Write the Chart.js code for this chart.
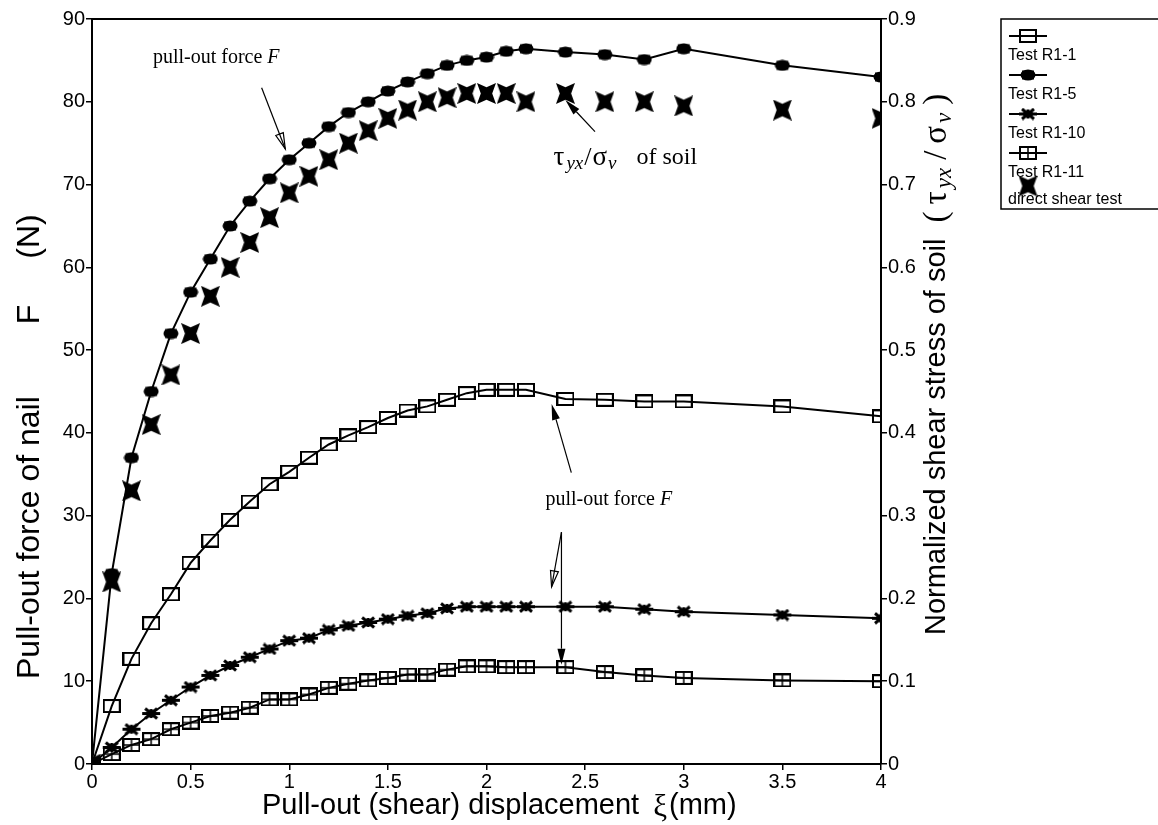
<!DOCTYPE html>
<html>
<head>
<meta charset="utf-8">
<script src="https://cdn.jsdelivr.net/npm/chart.js@4.4.1/dist/chart.umd.min.js"></script>
<style>
  html, body { margin: 0; padding: 0; background: #fff; }
  #wrap { width: 1158px; height: 825px; }
</style>
</head>
<body>
<div id="wrap"><canvas id="pulloutChart" width="1158" height="825"></canvas></div>
<script>
// pull-out displacement (mm) at which each reading was taken
const displacement = [0, 0.1, 0.2, 0.3, 0.4, 0.5, 0.6, 0.7, 0.8, 0.9, 1.0, 1.1, 1.2, 1.3, 1.4, 1.5,
  1.6, 1.7, 1.8, 1.9, 2.0, 2.1, 2.2, 2.4, 2.6, 2.8, 3.0, 3.5, 4.0];

// pull-out force of nail F (N)
const forceR1_1 = [0, 7, 12.7, 17, 20.5, 24.3, 27, 29.5, 31.7, 33.8, 35.3, 37, 38.6, 39.7, 40.7, 41.8,
  42.7, 43.2, 44, 44.8, 45.2, 45.2, 45.2, 44.1, 44, 43.8, 43.8, 43.2, 42];
const forceR1_5 = [0, 23, 37, 45, 52, 57, 61, 65, 68, 70.7, 73, 75, 77, 78.7, 80, 81.3,
  82.4, 83.4, 84.4, 85, 85.4, 86.1, 86.4, 86, 85.7, 85.1, 86.4, 84.4, 83];
const forceR1_10 = [0, 2, 4.2, 6.1, 7.7, 9.3, 10.7, 11.9, 12.9, 13.9, 14.9, 15.2, 16.2, 16.7, 17.1, 17.5,
  17.9, 18.2, 18.8, 19, 19, 19, 19, 19, 19, 18.7, 18.4, 18, 17.6];
const forceR1_11 = [0, 1.2, 2.3, 3, 4.2, 5, 5.8, 6.2, 6.8, 7.8, 7.8, 8.4, 9.2, 9.7, 10.1, 10.4,
  10.8, 10.8, 11.4, 11.8, 11.8, 11.7, 11.7, 11.7, 11.1, 10.7, 10.4, 10.1, 10];

// normalized shear stress of soil from the direct shear test
const shearRatio = [0, 0.22, 0.33, 0.41, 0.47, 0.52, 0.565, 0.60, 0.63, 0.66, 0.69, 0.71, 0.73, 0.75, 0.765, 0.78,
  0.79, 0.80, 0.805, 0.81, 0.81, 0.81, 0.80, 0.81, 0.80, 0.80, 0.795, 0.79, 0.78];

const seriesLabels = ['Test R1-1', 'Test R1-5', 'Test R1-10', 'Test R1-11', 'direct shear test'];

const xTicks = [0, 0.5, 1, 1.5, 2, 2.5, 3, 3.5, 4];
const forceTicks = [0, 10, 20, 30, 40, 50, 60, 70, 80, 90];
const ratioTicks = [0, 0.1, 0.2, 0.3, 0.4, 0.5, 0.6, 0.7, 0.8, 0.9];
const ratioTickLabels = ['0', '0.1', '0.2', '0.3', '0.4', '0.5', '0.6', '0.7', '0.8', '0.9'];

// where the notes sit, in axis units (displacement, force)
const topNote = { x: 0.63, y: 85.3 };
const lowNote = { x: 2.62, y: 31.9 };
const soilNote = { x: 2.34, y: 73.2 };
const noteArrows = [
  { from: [0.86, 81.7], to: [0.98, 74.3], open: true },
  { from: [2.43, 35.2], to: [2.33, 43.5] },
  { from: [2.38, 28.0], to: [2.33, 21.4], open: true },
  { from: [2.38, 28.0], to: [2.38, 12.0] },
  { from: [2.55, 76.4], to: [2.40, 80.2] }
];

const SANS = '"Liberation Sans", Arial, sans-serif';
const SERIF = '"Liberation Serif", "Times New Roman", serif';

function makeMarker(w, h, paint) {
  const c = document.createElement('canvas');
  c.width = w;
  c.height = h;
  const g = c.getContext('2d');
  g.strokeStyle = '#000';
  g.fillStyle = '#000';
  g.lineWidth = 2;
  paint(g, w, h);
  return c;
}

const openBox = makeMarker(18, 14, (g, w, h) => g.strokeRect(1, 1, w - 2, h - 2));
const plusBox = makeMarker(18, 14, (g, w, h) => {
  g.strokeRect(1, 1, w - 2, h - 2);
  g.lineWidth = 1.5;
  g.beginPath();
  g.moveTo(w / 2, 1); g.lineTo(w / 2, h - 1);
  g.moveTo(1, h / 2); g.lineTo(w - 1, h / 2);
  g.stroke();
});
const blob = makeMarker(16, 12, (g, w, h) => {
  g.beginPath();
  g.ellipse(w / 2, h / 2, w / 2 - 0.5, h / 2 - 0.5, 0, 0, Math.PI * 2);
  g.fill();
  g.fillRect(2, 1.5, w - 4, h - 3);
});
const star = makeMarker(20, 13, (g, w, h) => {
  g.lineWidth = 3;
  g.beginPath();
  g.moveTo(1, h / 2); g.lineTo(w - 1, h / 2);
  g.moveTo(4, 1.5); g.lineTo(w - 4, h - 1.5);
  g.moveTo(w - 4, 1.5); g.lineTo(4, h - 1.5);
  g.moveTo(w / 2, 2); g.lineTo(w / 2, h - 2);
  g.stroke();
});
const bowtie = makeMarker(19, 21, (g, w, h) => {
  g.beginPath();
  g.moveTo(0, 0); g.lineTo(w / 2, h * 0.2); g.lineTo(w, 0); g.lineTo(w * 0.8, h / 2);
  g.lineTo(w, h); g.lineTo(w / 2, h * 0.8); g.lineTo(0, h); g.lineTo(w * 0.2, h / 2);
  g.closePath();
  g.fill();
});

function pairs(values) {
  return displacement.map((d, i) => ({ x: d, y: values[i] }));
}

function lineSet(label, values, marker) {
  return {
    label: label,
    data: pairs(values),
    yAxisID: 'y',
    showLine: true,
    borderColor: '#000',
    backgroundColor: '#000',
    borderWidth: 2,
    pointStyle: marker,
    pointRadius: 8,
    tension: 0
  };
}

// draws a row of text pieces: [text, font, dy, gapAfter]
function drawRuns(ctx, runs, x, y, align) {
  let total = 0;
  runs.forEach(r => { ctx.font = r[1]; total += ctx.measureText(r[0]).width + (r[3] || 0); });
  let cx = align === 'center' ? x - total / 2 : x;
  runs.forEach(r => {
    ctx.font = r[1];
    ctx.fillText(r[0], cx, y + (r[2] || 0));
    cx += ctx.measureText(r[0]).width + (r[3] || 0);
  });
}

function drawArrow(ctx, x1, y1, x2, y2, open) {
  const a = Math.atan2(y2 - y1, x2 - x1);
  const len = 16, half = 4;
  const bx = x2 - Math.cos(a) * len, by = y2 - Math.sin(a) * len;
  const px = -Math.sin(a) * half, py = Math.cos(a) * half;
  ctx.beginPath();
  ctx.moveTo(x1, y1);
  ctx.lineTo(open ? x2 : bx, open ? y2 : by);
  ctx.stroke();
  ctx.beginPath();
  ctx.moveTo(x2, y2);
  ctx.lineTo(bx + px, by + py);
  ctx.lineTo(bx - px, by - py);
  ctx.closePath();
  if (open) ctx.stroke(); else ctx.fill();
}

const extras = {
  id: 'extras',
  afterDraw(chart) {
    const { ctx, chartArea: ca } = chart;
    const sx = chart.scales.x, sy = chart.scales.y;
    ctx.save();
    ctx.strokeStyle = '#000';
    ctx.fillStyle = '#000';

    // top frame line
    ctx.lineWidth = 2;
    ctx.beginPath();
    ctx.moveTo(ca.left - 1, ca.top);
    ctx.lineTo(ca.right + 1, ca.top);
    ctx.stroke();

    // axis titles
    ctx.textBaseline = 'middle';
    const big = '29px ' + SANS;
    drawRuns(ctx, [
      ['Pull-out (shear) displacement', big, 0, 14],
      ['\u03be', '31px ' + SERIF, 2, 2],
      ['(mm)', big]
    ], 262, 806, 'left');

    ctx.save();
    ctx.translate(30, 679);
    ctx.rotate(-Math.PI / 2);
    drawRuns(ctx, [
      ['Pull-out force of nail', '32px ' + SANS, 0, 72],
      ['F', '32px ' + SANS, 0, 46],
      ['(N)', '32px ' + SANS]
    ], 0, 0, 'left');
    ctx.restore();

    ctx.save();
    ctx.translate(937, 635);
    ctx.rotate(-Math.PI / 2);
    drawRuns(ctx, [
      ['Normalized shear stress of soil', big, 0, 16],
      ['(', '33px ' + SERIF, 0, 7],
      ['\u03c4', '33px ' + SERIF, 0, 3],
      ['yx', 'italic 23px ' + SERIF, 8, 8],
      ['/', '33px ' + SERIF, 0, 7],
      ['\u03c3', '33px ' + SERIF, 0, 3],
      ['v', 'italic 23px ' + SERIF, 8, 8],
      [')', '33px ' + SERIF]
    ], 0, 0, 'left');
    ctx.restore();

    // notes and their arrows
    const noteRuns = [['pull-out force ', '20px ' + SERIF], ['F', 'italic 20px ' + SERIF]];
    drawRuns(ctx, noteRuns, sx.getPixelForValue(topNote.x), sy.getPixelForValue(topNote.y), 'center');
    drawRuns(ctx, noteRuns, sx.getPixelForValue(lowNote.x), sy.getPixelForValue(lowNote.y), 'center');
    drawRuns(ctx, [
      ['\u03c4', '27px ' + SERIF, 0, 2],
      ['yx', 'italic 19px ' + SERIF, 6, 1],
      ['/', '26px ' + SERIF, 0, 1],
      ['\u03c3', '27px ' + SERIF, 0, 1],
      ['v', 'italic 19px ' + SERIF, 6, 20],
      ['of soil', '24px ' + SERIF]
    ], sx.getPixelForValue(soilNote.x), sy.getPixelForValue(soilNote.y), 'left');

    ctx.lineWidth = 1.2;
    noteArrows.forEach(a => drawArrow(ctx,
      sx.getPixelForValue(a.from[0]), sy.getPixelForValue(a.from[1]),
      sx.getPixelForValue(a.to[0]), sy.getPixelForValue(a.to[1]), a.open));

    // legend box: symbol row above each label
    ctx.lineWidth = 1.5;
    ctx.strokeRect(1001, 19, 160, 190);
    ctx.textBaseline = 'middle';
    chart.data.datasets.forEach((ds, i) => {
      const top = ds.showLine ? 36 + i * 39 : 186;
      const textY = ds.showLine ? top + 20 : 200;
      if (ds.showLine) {
        ctx.lineWidth = 2;
        ctx.beginPath();
        ctx.moveTo(1009, top);
        ctx.lineTo(1047, top);
        ctx.stroke();
      }
      const m = ds.pointStyle;
      ctx.drawImage(m, 1028 - m.width / 2, top - m.height / 2);
      ctx.font = '16px ' + SANS;
      ctx.fillText(ds.label, 1008, textY);
    });
    ctx.restore();
  }
};

const tickFont = { family: SANS, size: 20 };

new Chart(document.getElementById('pulloutChart'), {
  type: 'scatter',
  data: {
    datasets: [
      lineSet(seriesLabels[0], forceR1_1, openBox),
      lineSet(seriesLabels[1], forceR1_5, blob),
      lineSet(seriesLabels[2], forceR1_10, star),
      lineSet(seriesLabels[3], forceR1_11, plusBox),
      {
        label: seriesLabels[4],
        data: pairs(shearRatio),
        yAxisID: 'y1',
        showLine: false,
        borderColor: '#000',
        backgroundColor: '#000',
        pointStyle: bowtie,
        pointRadius: 9
      }
    ]
  },
  options: {
    responsive: false,
    animation: false,
    devicePixelRatio: 1,
    layout: { padding: { top: 19, left: 0, right: 217, bottom: 0 } },
    plugins: { legend: { display: false }, tooltip: { enabled: false } },
    scales: {
      x: {
        type: 'linear',
        min: 0,
        max: 4,
        afterBuildTicks: s => { s.ticks = xTicks.map(v => ({ value: v })); },
        afterFit: s => { s.height = 61; },
        ticks: { color: '#000', font: tickFont, padding: 0, maxRotation: 0, callback: v => String(v) },
        grid: { drawOnChartArea: false, drawTicks: true, tickLength: 6, color: '#000', lineWidth: 1.5 },
        border: { color: '#000', width: 2 }
      },
      y: {
        position: 'left',
        min: 0,
        max: 90,
        afterBuildTicks: s => { s.ticks = forceTicks.map(v => ({ value: v })); },
        afterFit: s => { s.width = 92; },
        ticks: { color: '#000', font: tickFont, padding: 1 },
        grid: { drawOnChartArea: false, drawTicks: true, tickLength: 6, color: '#000', lineWidth: 1.5 },
        border: { color: '#000', width: 2 }
      },
      y1: {
        position: 'right',
        min: 0,
        max: 0.9,
        afterBuildTicks: s => { s.ticks = ratioTicks.map(v => ({ value: v })); },
        afterFit: s => { s.width = 60; },
        ticks: { color: '#000', font: tickFont, padding: 1, callback: (v, i) => ratioTickLabels[i] },
        grid: { drawOnChartArea: false, drawTicks: true, tickLength: 6, color: '#000', lineWidth: 1.5 },
        border: { color: '#000', width: 2 }
      }
    }
  },
  plugins: [extras]
});
</script>
</body>
</html>
